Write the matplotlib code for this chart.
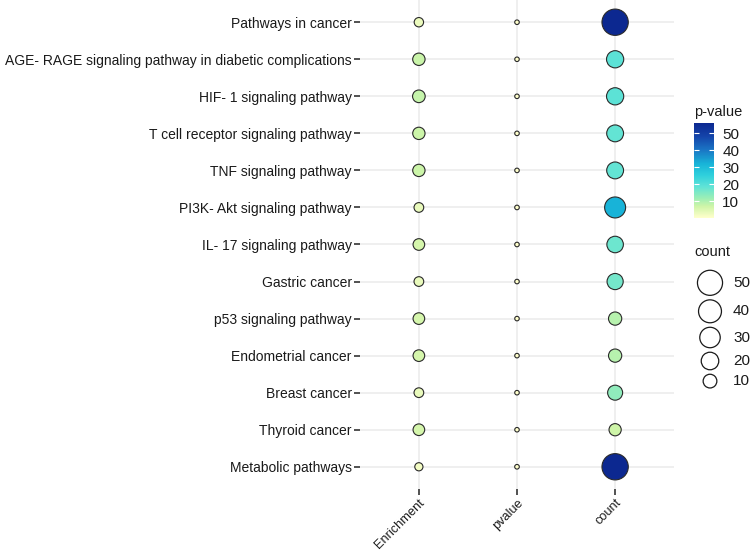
import numpy as np
import matplotlib
matplotlib.use("Agg")
import matplotlib.pyplot as plt
from matplotlib.colors import LinearSegmentedColormap, Normalize
from matplotlib.cm import ScalarMappable

plt.rcParams["font.family"] = ["Liberation Sans", "DejaVu Sans"]

# pathways, top to bottom
pathways = [
    "Pathways in cancer",
    "AGE- RAGE signaling pathway in diabetic complications",
    "HIF- 1 signaling pathway",
    "T cell receptor signaling pathway",
    "TNF signaling pathway",
    "PI3K- Akt signaling pathway",
    "IL- 17 signaling pathway",
    "Gastric cancer",
    "p53 signaling pathway",
    "Endometrial cancer",
    "Breast cancer",
    "Thyroid cancer",
    "Metabolic pathways",
]
columns = ["Enrichment", "pvalue", "count"]

enrichment = [2.8, 7.3, 7.8, 7.2, 7.2, 3.2, 6.0, 3.2, 6.0, 6.0, 3.2, 6.0, 1.6]
pvalue = [0.0004, 0.0001, 0.0002, 0.0003, 0.0002, 0.0010, 0.0003,
          0.0002, 0.0001, 0.0002, 0.0004, 0.0001, 0.0020]
count = [56, 19, 19, 18, 18, 32, 17, 16, 9, 9, 13, 7, 56]

legend_breaks = [50, 40, 30, 20, 10]

# colour scale (yellow -> turquoise -> dark blue)
cmap = LinearSegmentedColormap.from_list("pv", [
    (0.00, "#ffffcc"), (0.12, "#cff5a8"), (0.20, "#a0efb4"),
    (0.33, "#5fe3d6"), (0.45, "#2fd0dc"), (0.57, "#18b4d8"),
    (0.72, "#1a74c4"), (0.86, "#1444aa"), (1.00, "#0c2890")])

all_vals = np.array(enrichment + pvalue + count, dtype=float)
vmin, vmax = all_vals.min(), all_vals.max()
norm = Normalize(vmin, vmax)

DPI = 100
def diam_px(v):
    # area-style size scale, ~4.5px .. 26px diameter
    r = np.clip((np.asarray(v, float) - vmin) / (vmax - vmin), 0, 1)
    return 4.5 + 21.8 * np.sqrt(r)

def s_pts(v):
    return (diam_px(v) * 72 / DPI) ** 2

W, H = 750, 551
fig = plt.figure(figsize=(W / DPI, H / DPI), dpi=DPI)
text_col = "#1a1a1a"

# main panel
px0, px1, py0, py1 = 360, 674, 0, 489
ax = fig.add_axes([px0 / W, 1 - py1 / H, (px1 - px0) / W, (py1 - py0) / H])
ys = np.arange(len(pathways))
for j, vals in enumerate([enrichment, pvalue, count]):
    ax.scatter(np.full(len(vals), j), ys, s=s_pts(vals), c=vals, cmap=cmap, norm=norm,
               edgecolors="#2a2a2a", linewidths=0.8, zorder=3)

ax.set_xlim(-0.6, len(columns) - 1 + 0.6)
ax.set_ylim(len(pathways) - 1 + 0.6, -0.6)
ax.set_xticks(range(len(columns)))
ax.set_xticklabels(columns, rotation=45, ha="right", va="top", rotation_mode="anchor")
ax.set_yticks(ys)
ax.set_yticklabels(pathways)
ax.tick_params(axis="both", length=4, width=1.2, color="#333333", labelsize=10,
               labelcolor=text_col, pad=2)
ax.tick_params(axis="x", pad=1.5, labelsize=9.2)
for sp in ax.spines.values():
    sp.set_visible(False)
ax.grid(True, color="#ebebeb", linewidth=1.1, zorder=0)
ax.set_axisbelow(True)

# colour bar
cax = fig.add_axes([694 / W, 1 - 218 / H, 20 / W, 95 / H])
cb = fig.colorbar(ScalarMappable(norm=norm, cmap=cmap), cax=cax)
cb.outline.set_visible(False)
cb.set_ticks([10, 20, 30, 40, 50])
cax.tick_params(left=True, right=True, labelleft=False, labelright=True, direction="in",
                length=3.5, width=0.8, color="white", labelcolor=text_col, labelsize=11, pad=6)
fig.text(694 / W, 1 - 112 / H, "p-value", fontsize=10.5, color=text_col, va="center", ha="left")

# size legend
fig.text(694 / W, 1 - 252 / H, "count", fontsize=10.5, color=text_col, va="center", ha="left")
lax = fig.add_axes([0, 0, 1, 1], facecolor="none")
lax.set_xlim(0, W)
lax.set_ylim(H, 0)
lax.axis("off")
d_leg = diam_px(legend_breaks)
y_cur = 268.0
for b, d in zip(legend_breaks, d_leg):
    key_h = d + 4.5
    yc = y_cur + key_h / 2
    lax.scatter([710], [yc], s=s_pts(b), facecolors="none", edgecolors=text_col, linewidths=0.9)
    lax.text(733, yc, str(b), fontsize=11, color=text_col, va="center", ha="left")
    y_cur += key_h

fig.savefig("out.png", dpi=DPI)
